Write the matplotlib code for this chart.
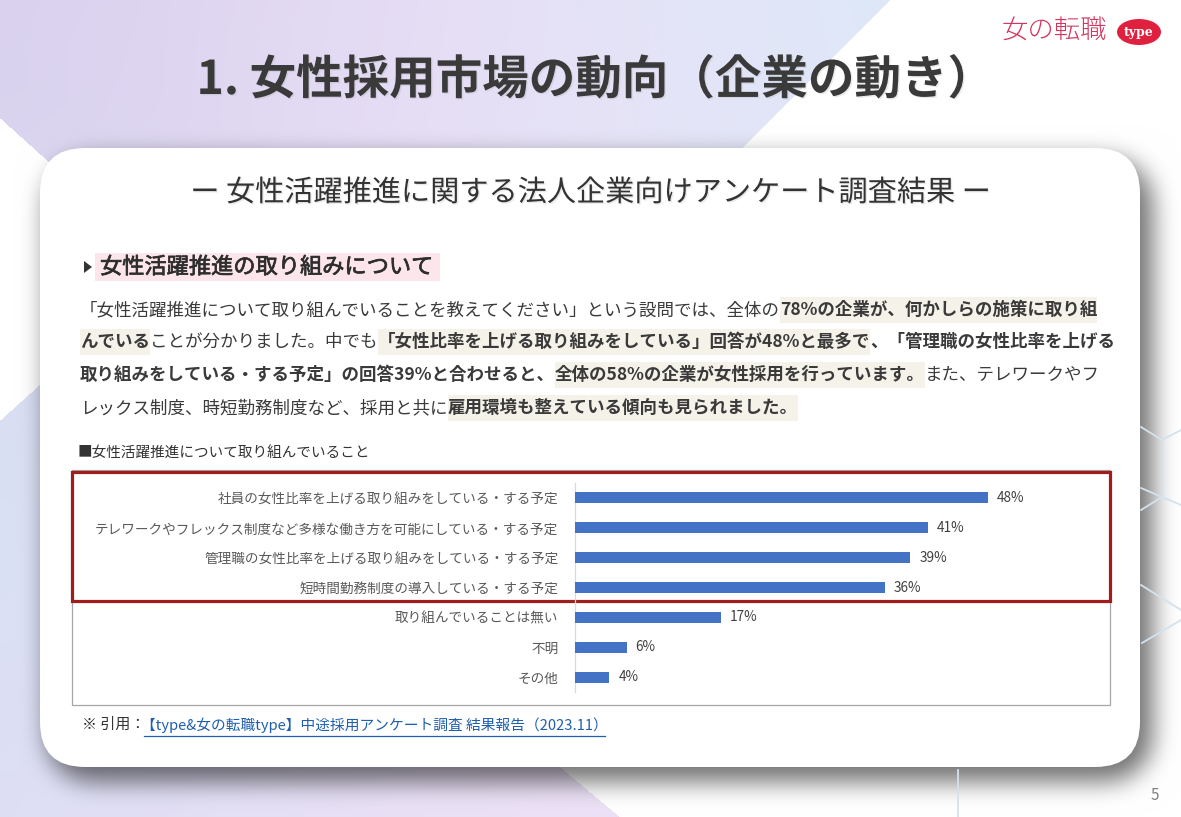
import numpy as np
import matplotlib
matplotlib.use('Agg')
import matplotlib.pyplot as plt
from matplotlib.patches import FancyBboxPatch, Rectangle, Ellipse, Polygon
import matplotlib.patheffects as pe

FONT = ['Noto Sans CJK JP', 'DejaVu Sans']
plt.rcParams['font.family'] = FONT

# ---------------- data ----------------
categories = [
    "社員の女性比率を上げる取り組みをしている・する予定",
    "テレワークやフレックス制度など多様な働き方を可能にしている・する予定",
    "管理職の女性比率を上げる取り組みをしている・する予定",
    "短時間勤務制度の導入している・する予定",
    "取り組んでいることは無い",
    "不明",
    "その他",
]
values = [48, 41, 39, 36, 17, 6, 4]
value_labels = ["48%", "41%", "39%", "36%", "17%", "6%", "4%"]

title = "1. 女性採用市場の動向（企業の動き）"
subtitle = "ー 女性活躍推進に関する法人企業向けアンケート調査結果 ー"
heading = "女性活躍推進の取り組みについて"
chart_label = "■女性活躍推進について取り組んでいること"
cite_prefix = "※ 引用："
cite_link = "【type&女の転職type】中途採用アンケート調査 結果報告（2023.11）"
paragraph = [
    [("「女性活躍推進について取り組んでいることを教えてください」という設問では、全体の", False, False),
     ("78%の企業が、何かしらの施策に取り組", True, True)],
    [("んでいる", True, True), ("ことが分かりました。中でも", False, False),
     ("「女性比率を上げる取り組みをしている」回答が48%と最多で", True, True),
     ("、「管理職の女性比率を上げる", True, False)],
    [("取り組みをしている・する予定」の回答39%と合わせると、", True, False),
     ("全体の58%の企業が女性採用を行っています。", True, True),
     ("また、テレワークやフ", False, False)],
    [("レックス制度、時短勤務制度など、採用と共に", False, False),
     ("雇用環境も整えている傾向も見られました。", True, True)],
]

W, H = 1181, 817
fig = plt.figure(figsize=(W / 100, H / 100), dpi=100)
bg = fig.add_axes([0, 0, 1, 1])
bg.set_xlim(0, W)
bg.set_ylim(H, 0)
bg.axis('off')

# ---------------- background ----------------
yy, xx = np.mgrid[0:H, 0:W].astype(float)
ctrl = [
    (0, 0, (212, 204, 235)), (300, 60, (226, 215, 243)), (560, 60, (240, 226, 246)),
    (820, 60, (212, 236, 250)), (0, 560, (212, 230, 243)), (0, 790, (222, 218, 246)),
    (360, 810, (238, 224, 245)), (650, 400, (236, 228, 248)),
]
num = np.zeros((H, W, 3))
den = np.zeros((H, W))
for px, py, c in ctrl:
    w = np.exp(-((xx - px) ** 2 + (yy - py) ** 2) / (2 * 240 ** 2))
    num += w[..., None] * np.array(c, float)
    den += w
img = num / den[..., None] / 255.0
colored = xx < np.maximum(890 - 1.0 * yy, 560 + 1.2 * (yy - 767))
left_white = (yy > 118 + 0.9 * xx) & (yy < 420 - 0.9 * xx)
img[(~colored) | left_white] = 1.0


def rrect_mask(x0, y0, x1, y1, r):
    dx = np.maximum(np.maximum(x0 + r - xx, xx - (x1 - r)), 0)
    dy = np.maximum(np.maximum(y0 + r - yy, yy - (y1 - r)), 0)
    return ((dx ** 2 + dy ** 2) <= r ** 2) & (xx >= x0) & (xx <= x1) & (yy >= y0) & (yy <= y1)


def blur1d(a, k, axis):
    pad = [(0, 0)] * a.ndim
    pad[axis] = (k, k)
    ap = np.pad(a, pad, mode='edge')
    c = np.cumsum(ap, axis=axis)
    c = np.insert(c, 0, 0, axis=axis)
    n = a.shape[axis]
    hi = [slice(None)] * a.ndim
    lo = [slice(None)] * a.ndim
    hi[axis] = slice(2 * k + 1, 2 * k + 1 + n)
    lo[axis] = slice(0, n)
    return (c[tuple(hi)] - c[tuple(lo)]) / (2 * k + 1)


sh = rrect_mask(46, 158, 1152, 781, 45).astype(float)
for _ in range(3):
    sh = blur1d(blur1d(sh, 11, 0), 11, 1)
img = img * (1 - 0.55 * sh[..., None])

bg.imshow(img, extent=(0, W, H, 0), zorder=0, aspect='auto', interpolation='bilinear')
hex_lines = [
    [(1141, 427), (1162, 440), (1162, 497), (1141, 510)],
    [(1141, 488), (1162, 497), (1181, 505)],
    [(1141, 585), (1181, 610)],
    [(1142, 643), (1181, 620)],
    [(958, 770), (958, 817)],
    [(1162, 440), (1181, 430)],
]
for seg in hex_lines:
    xs, ys = zip(*seg)
    bg.plot(xs, ys, color='#d3e2ec', lw=1.3, zorder=1)

# ---------------- card ----------------
card = FancyBboxPatch((40, 148), 1100, 619, boxstyle="round,pad=0,rounding_size=45",
                      fc='white', ec='none', zorder=2)
bg.add_patch(card)

# ---------------- logo ----------------
bg.text(1002, 31, "女の転職", fontsize=19, color='#d4365f', fontweight='light',
        va='center', ha='left', zorder=5)
bg.add_patch(Ellipse((1139, 32), 44, 26, fc='#e0203f', ec='none', zorder=5))
bg.text(1139, 32.5, "type", fontsize=9, color='white', fontweight='bold',
        family=['DejaVu Serif'], va='center', ha='center', zorder=6)

# ---------------- titles ----------------
shadow = [pe.withSimplePatchShadow(offset=(1.0, -1.0), shadow_rgbFace='#999999', alpha=0.2)]
bg.text(595, 80, title, fontsize=33.5, fontweight='bold', color='#3a3a3a',
        ha='center', va='center', zorder=5, path_effects=shadow)
bg.text(590, 193, subtitle, fontsize=21, color='#333333', fontweight='normal',
        ha='center', va='center', zorder=5, path_effects=shadow)

# heading
bg.add_patch(Rectangle((95, 253), 345, 28, fc='#fce6eb', ec='none', zorder=3))
bg.add_patch(Polygon([(84, 261), (84, 273), (92, 267)], closed=True, fc='#333333', ec='none', zorder=4))
bg.text(100, 267, heading, fontsize=16, fontweight='normal', color='#2e2e2e',
        ha='left', va='center', zorder=5,
        path_effects=[pe.withStroke(linewidth=0.5, foreground='#2e2e2e')])

renderer = fig.canvas.get_renderer()

# paragraph
line_y = [310, 342, 375, 408]
for ly, runs in zip(line_y, paragraph):
    x = 80
    for txt, bold, hl in runs:
        t = bg.text(x, ly, txt, fontsize=12.6, fontweight='bold' if bold else 'normal',
                    color='#3a3a3a', ha='left', va='center', zorder=5)
        wpx = t.get_window_extent(renderer).width
        if hl:
            bg.add_patch(Rectangle((x, ly - 13), wpx, 26, fc='#f5f2ea', ec='none', zorder=3))
        x += wpx

# chart label
bg.text(78, 453, chart_label, fontsize=10.5, color='#333333', ha='left', va='center', zorder=5)

# chart frames
bg.add_patch(Rectangle((72, 470), 1038, 235, fc='none', ec='#a6a6a6', lw=0.9, zorder=4))
bg.add_patch(Rectangle((72, 472), 1038, 129, fc='none', ec='#a11d1d', lw=2.3, zorder=6))

# ---------------- bar chart ----------------
px_per_unit = 8.6
xmax = 58
ax = fig.add_axes([575 / W, 1 - 692 / H, xmax * px_per_unit / W, 209 / H])
ax.patch.set_alpha(0)
ypos = np.arange(len(categories))
ax.barh(ypos, values, height=0.37, color='#4472C4', zorder=3)
ax.set_ylim(len(categories) - 0.5, -0.5)
ax.set_xlim(0, xmax)
ax.set_yticks(ypos)
ax.set_yticklabels(categories, fontsize=9.8, color='#595959')
ax.tick_params(axis='y', length=0, pad=12)
ax.set_xticks([])
for s in ['top', 'right', 'bottom']:
    ax.spines[s].set_visible(False)
ax.spines['left'].set_color('#d9d9d9')
ax.spines['left'].set_linewidth(0.9)
for yi, v, lab in zip(ypos, values, value_labels):
    ax.text(v + 1.05, yi, lab, va='center', ha='left', fontsize=9.8, color='#404040')

# ---------------- footer ----------------
t1 = bg.text(82, 725, cite_prefix, fontsize=10.8, color='#333333', ha='left', va='center', zorder=5)
x0 = 82 + t1.get_window_extent(renderer).width - 4
t2 = bg.text(x0, 725, cite_link, fontsize=10.6, color='#1f5fae', ha='left', va='center', zorder=5)
wl = t2.get_window_extent(renderer).width
bg.plot([x0 + 3, x0 + wl - 3], [735.5, 735.5], color='#1f5fae', lw=0.9, zorder=5)

bg.text(1155, 795, "5", fontsize=11, color='#808080', ha='center', va='center', zorder=5)

fig.savefig('out.png', dpi=100)
